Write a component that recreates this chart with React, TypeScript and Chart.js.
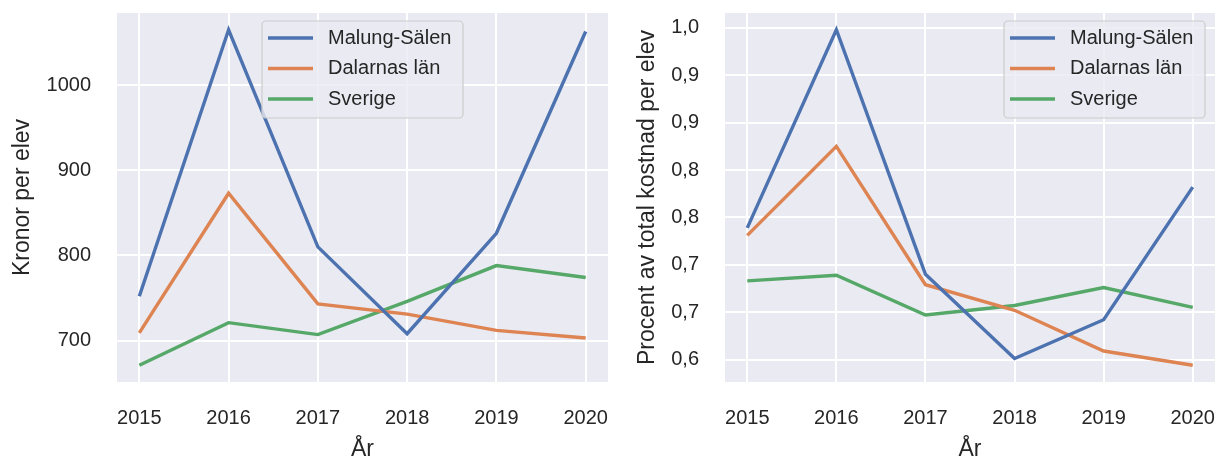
import React, { useEffect, useRef } from 'react';
import { Chart, registerables } from 'chart.js';

Chart.register(...registerables);

const YEARS = [2015, 2016, 2017, 2018, 2019, 2020];
const SERIES_NAMES = ['Malung-Sälen', 'Dalarnas län', 'Sverige'];
const COLORS = ['#4c72b0', '#dd8452', '#55a868'];

const KRONOR_MALUNG = [752, 1065, 810, 708, 826, 1063];
const KRONOR_DALARNA = [709, 873, 743, 731, 712, 703];
const KRONOR_SVERIGE = [671, 721, 707, 746, 788, 774];

const PROCENT_MALUNG = [0.789, 0.998, 0.74, 0.651, 0.692, 0.832];
const PROCENT_DALARNA = [0.781, 0.875, 0.729, 0.702, 0.659, 0.644];
const PROCENT_SVERIGE = [0.733, 0.739, 0.697, 0.707, 0.726, 0.705];

const KRONOR_TICKS = [700, 800, 900, 1000];
const KRONOR_TICK_LABELS = ['700', '800', '900', '1000'];
const PROCENT_TICKS = [0.65, 0.7, 0.75, 0.8, 0.85, 0.9, 0.95, 1.0];
const PROCENT_TICK_LABELS = ['0,6', '0,7', '0,7', '0,8', '0,8', '0,9', '0,9', '1,0'];

const X_TITLE = 'År';
const LEFT_Y_TITLE = 'Kronor per elev';
const RIGHT_Y_TITLE = 'Procent av total kostnad per elev';

const FONT = "'Liberation Sans', Arial, Helvetica, sans-serif";
const TEXT_COLOR = '#262626';
const LINE_WIDTH = 3.4;

function padRange(series: number[][]) {
  const all = series.flat();
  const mn = Math.min(...all);
  const mx = Math.max(...all);
  const r = mx - mn;
  return { min: mn - 0.05 * r, max: mx + 0.05 * r };
}

function zeroPadding(scale: any) {
  scale.paddingTop = 0;
  scale.paddingBottom = 0;
  scale.paddingLeft = 0;
  scale.paddingRight = 0;
}

const bgPlugin = {
  id: 'sbBg',
  beforeDraw(chart: any) {
    const { ctx, chartArea: a } = chart;
    ctx.save();
    ctx.fillStyle = '#eaeaf2';
    ctx.fillRect(a.left, a.top, a.right - a.left, a.bottom - a.top);
    ctx.restore();
  },
};

const legendPlugin = {
  id: 'sbLegend',
  afterDatasetsDraw(chart: any, _args: any, opts: any) {
    const { ctx, chartArea: a } = chart;
    const w = 201;
    const h = 97;
    const x = opts.anchor === 'left' ? a.left + opts.offsetX : a.right - opts.offsetX - w;
    const y = a.top + 8;
    ctx.save();
    ctx.beginPath();
    const r = 4;
    ctx.moveTo(x + r, y);
    ctx.lineTo(x + w - r, y);
    ctx.arcTo(x + w, y, x + w, y + r, r);
    ctx.lineTo(x + w, y + h - r);
    ctx.arcTo(x + w, y + h, x + w - r, y + h, r);
    ctx.lineTo(x + r, y + h);
    ctx.arcTo(x, y + h, x, y + h - r, r);
    ctx.lineTo(x, y + r);
    ctx.arcTo(x, y, x + r, y, r);
    ctx.closePath();
    ctx.fillStyle = 'rgba(234,234,242,0.8)';
    ctx.fill();
    ctx.strokeStyle = '#cccccc';
    ctx.lineWidth = 1.2;
    ctx.stroke();
    ctx.font = `20px ${FONT}`;
    ctx.textBaseline = 'middle';
    ctx.textAlign = 'left';
    chart.data.datasets.forEach((ds: any, i: number) => {
      const cy = y + 17 + i * 30.5;
      ctx.beginPath();
      ctx.strokeStyle = ds.borderColor;
      ctx.lineWidth = LINE_WIDTH;
      ctx.moveTo(x + 6, cy);
      ctx.lineTo(x + 51, cy);
      ctx.stroke();
      ctx.fillStyle = TEXT_COLOR;
      ctx.fillText(ds.label, x + 66, cy);
    });
    ctx.restore();
  },
};

function makeConfig(
  series: number[][],
  yTicks: number[],
  yLabels: string[],
  yTitle: string,
  yWidth: number,
  yTitlePad: number,
  padding: any,
  legendOpts: any
): any {
  const range = padRange(series);
  return {
    type: 'line',
    data: {
      datasets: series.map((vals, i) => ({
        label: SERIES_NAMES[i],
        data: YEARS.map((yr, j) => ({ x: yr, y: vals[j] })),
        borderColor: COLORS[i],
        backgroundColor: COLORS[i],
        borderWidth: LINE_WIDTH,
        pointRadius: 0,
        tension: 0,
        fill: false,
      })),
    },
    options: {
      responsive: false,
      animation: false,
      layout: { padding },
      plugins: {
        legend: { display: false },
        tooltip: { enabled: false },
        sbLegend: legendOpts,
      },
      scales: {
        x: {
          type: 'linear',
          min: YEARS[0] - 0.05 * (YEARS[YEARS.length - 1] - YEARS[0]),
          max: YEARS[YEARS.length - 1] + 0.05 * (YEARS[YEARS.length - 1] - YEARS[0]),
          afterBuildTicks: (scale: any) => {
            scale.ticks = YEARS.map((v) => ({ value: v }));
          },
          afterFit: (scale: any) => {
            scale.height = 77;
            zeroPadding(scale);
          },
          grid: { color: '#ffffff', lineWidth: 2, drawTicks: false },
          border: { display: false },
          ticks: {
            padding: 24,
            color: TEXT_COLOR,
            font: { family: FONT, size: 20 },
            maxRotation: 0,
            autoSkip: false,
            callback: (v: any) => String(v),
          },
          title: {
            display: true,
            text: X_TITLE,
            color: TEXT_COLOR,
            font: { family: FONT, size: 23, lineHeight: 0.8 },
            padding: { top: 0, bottom: 0 },
          },
        },
        y: {
          type: 'linear',
          min: range.min,
          max: range.max,
          afterBuildTicks: (scale: any) => {
            scale.ticks = yTicks.map((v) => ({ value: v }));
          },
          afterFit: (scale: any) => {
            scale.width = yWidth;
            zeroPadding(scale);
          },
          grid: { color: '#ffffff', lineWidth: 2, drawTicks: false },
          border: { display: false },
          ticks: {
            padding: 26,
            color: TEXT_COLOR,
            font: { family: FONT, size: 20 },
            autoSkip: false,
            callback: (_v: any, idx: number) => yLabels[idx],
          },
          title: {
            display: true,
            text: yTitle,
            color: TEXT_COLOR,
            font: { family: FONT, size: 23 },
            padding: { top: yTitlePad, bottom: 0 },
          },
        },
      },
    },
    plugins: [bgPlugin, legendPlugin],
  };
}

function ChartCanvas({ config, width, height, left }: any) {
  const ref = useRef<HTMLCanvasElement | null>(null);
  useEffect(() => {
    if (!ref.current) return;
    const chart = new Chart(ref.current, config());
    return () => chart.destroy();
  }, []);
  return (
    <canvas
      ref={ref}
      width={width}
      height={height}
      style={{ position: 'absolute', left, top: 0, width, height }}
    />
  );
}

export default function App() {
  useEffect(() => {
    document.body.style.margin = '0';
  }, []);
  const leftConfig = () =>
    makeConfig(
      [KRONOR_MALUNG, KRONOR_DALARNA, KRONOR_SVERIGE],
      KRONOR_TICKS,
      KRONOR_TICK_LABELS,
      LEFT_Y_TITLE,
      117,
      9,
      { left: 0, top: 13, right: 12, bottom: 0 },
      { anchor: 'left', offsetX: 145 }
    );
  const rightConfig = () =>
    makeConfig(
      [PROCENT_MALUNG, PROCENT_DALARNA, PROCENT_SVERIGE],
      PROCENT_TICKS,
      PROCENT_TICK_LABELS,
      RIGHT_Y_TITLE,
      105,
      14,
      { left: 0, top: 13, right: 2, bottom: 0 },
      { anchor: 'right', offsetX: 10 }
    );
  return (
    <div style={{ position: 'fixed', left: 0, top: 0, width: 1217, height: 459, background: '#ffffff', overflow: 'hidden' }}>
      <ChartCanvas config={leftConfig} width={620} height={459} left={0} />
      <ChartCanvas config={rightConfig} width={597} height={459} left={620} />
    </div>
  );
}
